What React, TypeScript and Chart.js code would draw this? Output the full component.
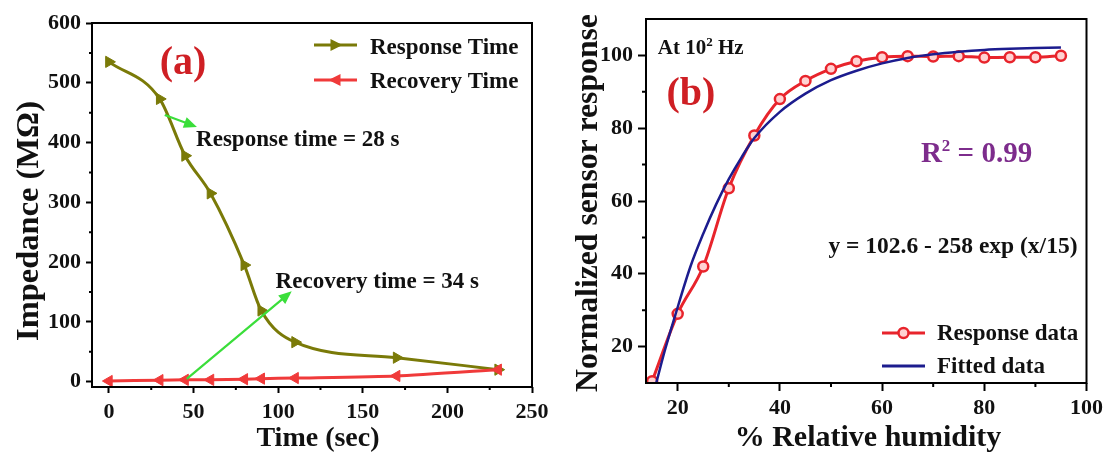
import React, { useEffect, useRef } from "react";
import { Chart, registerables } from "chart.js";

Chart.register(...registerables);

const FONT = '"Liberation Serif", "Times New Roman", serif';

// ---------- Panel (a) data ----------
const timeSec = [0, 30, 45, 60, 80, 90, 110, 170, 230];
const responseImpedance = [535, 473, 378, 315, 195, 119, 66, 40, 20];
const recoveryImpedance = [1, 2.5, 3, 3, 4, 5, 6, 9.5, 20];
const timeTicks = [0, 50, 100, 150, 200, 250];
const timeMinorTicks = [25, 75, 125, 175, 225];
const impedanceTicks = [0, 100, 200, 300, 400, 500, 600];
const impedanceMinorTicks = [50, 150, 250, 350, 450, 550];

// ---------- Panel (b) data ----------
const humidity = [15, 20, 25, 30, 35, 40, 45, 50, 55, 60, 65, 70, 75, 80, 85, 90, 95];
const responseData = [10.5, 29, 42, 63.5, 78, 88, 93, 96.3, 98.4, 99.5, 99.8, 99.7, 99.8, 99.4, 99.5, 99.5, 99.9];
const fitHumidity = [15.8, 17.5, 19.5, 22.5, 25, 27.5, 30, 32.5, 35, 40, 45, 50, 55, 60, 65, 70, 75, 80, 85, 90, 95];
const fitResponse = [10, 19, 28.5, 42, 51, 59, 66, 72, 77.3, 84.5, 89.5, 93.2, 95.8, 97.8, 99.3, 100.3, 101, 101.5, 101.8, 102, 102.2];
const humidityTicks = [20, 40, 60, 80, 100];
const humidityMinorTicks = [30, 50, 70, 90];
const responseTicks = [20, 40, 60, 80, 100];
const responseMinorTicks = [30, 50, 70, 90];

const OLIVE = "#7a7a08";
const RED_A = "#f03a3a";
const RED_B = "#e8242c";
const BLUE = "#1c1c8e";
const GREEN = "#3ade3a";
const LABEL_RED = "#cf1f24";
const PURPLE = "#7d2c8c";
const INK = "#111111";

type Run = { t: string; sup?: boolean };
type TextItem = { runs: Run[]; x: number; y: number; size: number; color: string; align?: "left" | "center" };
type LegendItem = { label: string; color: string; x1: number; x2: number; y: number; textX: number; baseline: number; marker: "tri-right" | "tri-left" | "circle" | "none" };
type Deco = {
  minorX: number[];
  minorY: number[];
  minorLen: number;
  texts: TextItem[];
  arrows: { from: [number, number]; to: [number, number] }[];
  legend: LegendItem[];
  xTitle: { text: string; cx: number; baseline: number; size: number };
  yTitle: { text: string; baselineX: number; cy: number; size: number };
};

function drawRuns(ctx: CanvasRenderingContext2D, item: TextItem, px: number, py: number) {
  const widths = item.runs.map((r) => {
    ctx.font = `bold ${r.sup ? Math.round(item.size * 0.6) : item.size}px ${FONT}`;
    return ctx.measureText(r.t).width;
  });
  const total = widths.reduce((a, b) => a + b, 0);
  let x = item.align === "center" ? px - total / 2 : px;
  ctx.fillStyle = item.color;
  ctx.textAlign = "left";
  ctx.textBaseline = "alphabetic";
  item.runs.forEach((r, i) => {
    ctx.font = `bold ${r.sup ? Math.round(item.size * 0.6) : item.size}px ${FONT}`;
    ctx.fillText(r.t, x, r.sup ? py - item.size * 0.38 : py);
    x += widths[i];
  });
}

function drawMarker(ctx: CanvasRenderingContext2D, kind: string, cx: number, cy: number, color: string) {
  ctx.save();
  if (kind === "tri-right" || kind === "tri-left") {
    const d = kind === "tri-right" ? 1 : -1;
    ctx.fillStyle = color;
    ctx.beginPath();
    ctx.moveTo(cx + d * 7, cy);
    ctx.lineTo(cx - d * 5, cy - 6);
    ctx.lineTo(cx - d * 5, cy + 6);
    ctx.closePath();
    ctx.fill();
  } else if (kind === "circle") {
    ctx.fillStyle = "#ffd2d2";
    ctx.strokeStyle = color;
    ctx.lineWidth = 2.5;
    ctx.beginPath();
    ctx.arc(cx, cy, 5, 0, Math.PI * 2);
    ctx.fill();
    ctx.stroke();
  }
  ctx.restore();
}

function makeDecoPlugin(deco: Deco) {
  return {
    id: "deco",
    afterDraw(chart: any) {
      const ctx: CanvasRenderingContext2D = chart.ctx;
      const area = chart.chartArea;
      const xs = chart.scales.x;
      const ys = chart.scales.y;
      ctx.save();
      // frame
      ctx.strokeStyle = "#000";
      ctx.lineWidth = 2;
      ctx.strokeRect(area.left, area.top, area.right - area.left, area.bottom - area.top);
      // minor ticks
      ctx.lineWidth = 2;
      ctx.beginPath();
      deco.minorX.forEach((v) => {
        const p = xs.getPixelForValue(v);
        ctx.moveTo(p, area.bottom);
        ctx.lineTo(p, area.bottom + deco.minorLen);
      });
      deco.minorY.forEach((v) => {
        const p = ys.getPixelForValue(v);
        ctx.moveTo(area.left, p);
        ctx.lineTo(area.left - deco.minorLen, p);
      });
      ctx.stroke();
      // arrows
      deco.arrows.forEach((a) => {
        const x1 = xs.getPixelForValue(a.from[0]);
        const y1 = ys.getPixelForValue(a.from[1]);
        const x2 = xs.getPixelForValue(a.to[0]);
        const y2 = ys.getPixelForValue(a.to[1]);
        const ang = Math.atan2(y2 - y1, x2 - x1);
        const hl = 13;
        const hw = 5.5;
        ctx.strokeStyle = GREEN;
        ctx.fillStyle = GREEN;
        ctx.lineWidth = 2.2;
        ctx.beginPath();
        ctx.moveTo(x1, y1);
        ctx.lineTo(x2 - Math.cos(ang) * hl * 0.7, y2 - Math.sin(ang) * hl * 0.7);
        ctx.stroke();
        ctx.beginPath();
        ctx.moveTo(x2, y2);
        ctx.lineTo(x2 - Math.cos(ang) * hl - Math.sin(ang) * hw, y2 - Math.sin(ang) * hl + Math.cos(ang) * hw);
        ctx.lineTo(x2 - Math.cos(ang) * hl + Math.sin(ang) * hw, y2 - Math.sin(ang) * hl - Math.cos(ang) * hw);
        ctx.closePath();
        ctx.fill();
      });
      // texts (positioned in data units)
      deco.texts.forEach((t) => {
        drawRuns(ctx, t, xs.getPixelForValue(t.x), ys.getPixelForValue(t.y));
      });
      // legend
      deco.legend.forEach((l) => {
        ctx.strokeStyle = l.color;
        ctx.lineWidth = 3;
        ctx.beginPath();
        ctx.moveTo(l.x1, l.y);
        ctx.lineTo(l.x2, l.y);
        ctx.stroke();
        drawMarker(ctx, l.marker, (l.x1 + l.x2) / 2, l.y, l.color);
        ctx.fillStyle = INK;
        ctx.font = `bold 23px ${FONT}`;
        ctx.textAlign = "left";
        ctx.textBaseline = "alphabetic";
        ctx.fillText(l.label, l.textX, l.baseline);
      });
      // axis titles
      ctx.fillStyle = INK;
      ctx.font = `bold ${deco.xTitle.size}px ${FONT}`;
      ctx.textAlign = "center";
      ctx.textBaseline = "alphabetic";
      ctx.fillText(deco.xTitle.text, deco.xTitle.cx, deco.xTitle.baseline);
      ctx.save();
      ctx.translate(deco.yTitle.baselineX, deco.yTitle.cy);
      ctx.rotate(-Math.PI / 2);
      ctx.font = `bold ${deco.yTitle.size}px ${FONT}`;
      ctx.fillText(deco.yTitle.text, 0, 0);
      ctx.restore();
      ctx.restore();
    },
  };
}

function axis(min: number, max: number, ticks: number[], opts: { fit: (s: any) => void; padding: number; tickLength: number }) {
  return {
    type: "linear" as const,
    min,
    max,
    afterBuildTicks: (scale: any) => {
      scale.ticks = ticks.map((v) => ({ value: v }));
    },
    afterFit: opts.fit,
    ticks: {
      autoSkip: false,
      maxRotation: 0,
      padding: opts.padding,
      color: INK,
      font: { family: FONT, size: 22, weight: "bold" as const },
      callback: (v: any) => String(v),
    },
    grid: {
      display: true,
      drawOnChartArea: false,
      drawTicks: true,
      tickLength: opts.tickLength,
      tickWidth: 2,
      tickColor: "#000",
    },
    border: { display: false },
  };
}

function PanelA() {
  const ref = useRef<HTMLCanvasElement>(null);
  useEffect(() => {
    const deco: Deco = {
      minorX: timeMinorTicks,
      minorY: impedanceMinorTicks,
      minorLen: 3,
      texts: [
        { runs: [{ t: "(a)" }], x: 43.8, y: 515, size: 40, color: LABEL_RED, align: "center" },
        { runs: [{ t: "Response time = 28 s" }], x: 51.5, y: 394, size: 23, color: INK },
        { runs: [{ t: "Recovery time = 34 s" }], x: 98.5, y: 157, size: 23, color: INK },
      ],
      arrows: [
        { from: [33, 446], to: [52, 426] },
        { from: [46, 4.5], to: [108, 151] },
      ],
      legend: [
        { label: "Response Time", color: OLIVE, x1: 314, x2: 357, y: 45, textX: 370, baseline: 53.5, marker: "tri-right" },
        { label: "Recovery Time", color: RED_A, x1: 314, x2: 357, y: 80, textX: 370, baseline: 88, marker: "tri-left" },
      ],
      xTitle: { text: "Time (sec)", cx: 318, baseline: 446, size: 28 },
      yTitle: { text: "Impedance (MΩ)", baselineX: 38, cy: 221, size: 32.5 },
    };
    const chart = new Chart(ref.current!, {
      type: "line",
      data: {
        datasets: [
          {
            label: "Recovery Time",
            data: timeSec.map((t, i) => ({ x: t, y: recoveryImpedance[i] })),
            borderColor: RED_A,
            backgroundColor: RED_A,
            borderWidth: 3,
            pointStyle: "triangle",
            rotation: -90,
            pointRadius: 6.5,
            pointBorderWidth: 1,
            tension: 0.2,
            order: 0,
          },
          {
            label: "Response Time",
            data: timeSec.map((t, i) => ({ x: t, y: responseImpedance[i] })),
            borderColor: OLIVE,
            backgroundColor: OLIVE,
            borderWidth: 3,
            pointStyle: "triangle",
            rotation: 90,
            pointRadius: 6.5,
            pointBorderWidth: 1,
            cubicInterpolationMode: "monotone",
            order: 1,
          },
        ],
      },
      options: {
        animation: false,
        responsive: false,
        maintainAspectRatio: false,
        layout: { padding: { left: 0, top: 23, right: 28, bottom: 0 } },
        plugins: { legend: { display: false }, tooltip: { enabled: false } },
        scales: {
          x: axis(-10, 250, timeTicks, { fit: (s) => { s.height = 65; }, padding: 6, tickLength: 6 }),
          y: axis(-9, 600, impedanceTicks, { fit: (s) => { s.width = 92; }, padding: 5, tickLength: 6 }),
        },
      } as any,
      plugins: [makeDecoPlugin(deco)],
    });
    return () => chart.destroy();
  }, []);
  return <canvas ref={ref} width={560} height={452} style={{ position: "absolute", left: 0, top: 0 }} />;
}

function PanelB() {
  const ref = useRef<HTMLCanvasElement>(null);
  useEffect(() => {
    const deco: Deco = {
      minorX: humidityMinorTicks,
      minorY: responseMinorTicks,
      minorLen: 4,
      texts: [
        { runs: [{ t: "At 10" }, { t: "2", sup: true }, { t: " Hz" }], x: 16.1, y: 100.3, size: 21, color: INK },
        { runs: [{ t: "(b)" }], x: 22.6, y: 86.4, size: 40, color: LABEL_RED, align: "center" },
        { runs: [{ t: "R" }, { t: "2", sup: true }, { t: " = 0.99" }], x: 67.6, y: 70.6, size: 29, color: PURPLE },
        { runs: [{ t: "y = 102.6 - 258 exp (x/15)" }], x: 49.5, y: 45.7, size: 23.5, color: INK },
      ],
      arrows: [],
      legend: [
        { label: "Response data", color: RED_B, x1: 322, x2: 365, y: 333, textX: 377, baseline: 340, marker: "circle" },
        { label: "Fitted data", color: BLUE, x1: 322, x2: 365, y: 366, textX: 377, baseline: 373, marker: "none" },
      ],
      xTitle: { text: "% Relative humidity", cx: 308, baseline: 446, size: 30 },
      yTitle: { text: "Normalized sensor response", baselineX: 37, cy: 203, size: 31.7 },
    };
    const chart = new Chart(ref.current!, {
      type: "line",
      data: {
        datasets: [
          {
            label: "Response data",
            data: humidity.map((h, i) => ({ x: h, y: responseData[i] })),
            borderColor: RED_B,
            backgroundColor: "#ffd2d2",
            borderWidth: 3,
            pointStyle: "circle",
            pointRadius: 5,
            pointBorderWidth: 2.5,
            pointBorderColor: RED_B,
            cubicInterpolationMode: "monotone",
            order: 1,
          },
          {
            label: "Fitted data",
            data: fitHumidity.map((h, i) => ({ x: h, y: fitResponse[i] })),
            borderColor: BLUE,
            borderWidth: 2.5,
            pointRadius: 0,
            cubicInterpolationMode: "monotone",
            order: 0,
          },
        ],
      },
      options: {
        animation: false,
        responsive: false,
        maintainAspectRatio: false,
        layout: { padding: { left: 0, top: 19, right: 20, bottom: 0 } },
        plugins: { legend: { display: false }, tooltip: { enabled: false } },
        scales: {
          x: axis(13.8, 100, humidityTicks, { fit: (s) => { s.height = 69; }, padding: 4, tickLength: 8 }),
          y: axis(10, 110, responseTicks, { fit: (s) => { s.width = 86; }, padding: 5, tickLength: 8 }),
        },
      } as any,
      plugins: [makeDecoPlugin(deco)],
    });
    return () => chart.destroy();
  }, []);
  return <canvas ref={ref} width={547} height={452} style={{ position: "absolute", left: 560, top: 0 }} />;
}

export default function App() {
  return (
    <div style={{ position: "absolute", left: 0, top: 0, width: 1107, height: 452, background: "#ffffff", overflow: "hidden" }}>
      <PanelA />
      <PanelB />
    </div>
  );
}
